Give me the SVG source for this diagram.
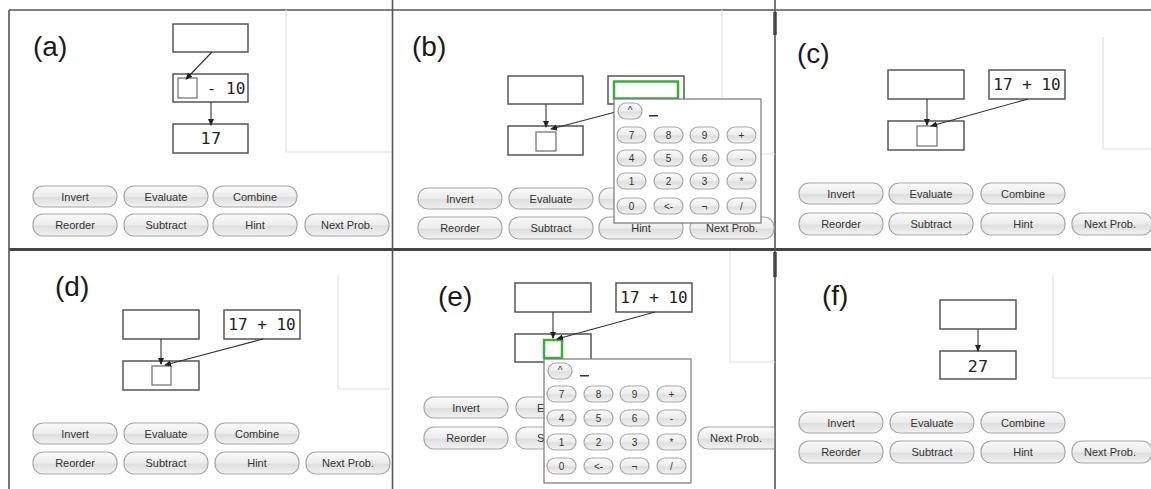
<svg xmlns="http://www.w3.org/2000/svg" width="1151" height="489" viewBox="0 0 1151 489">
<defs>
<linearGradient id="bg" x1="0" y1="0" x2="0" y2="1">
<stop offset="0" stop-color="#fbfbfb"/>
<stop offset="0.5" stop-color="#ececec"/>
<stop offset="0.55" stop-color="#dedede"/>
<stop offset="1" stop-color="#f2f2f2"/>
</linearGradient>
<clipPath id="eclip"><rect x="400" y="380" width="144" height="80"/></clipPath>
<clipPath id="eclip2"><rect x="690" y="420" width="84.2" height="40"/></clipPath>
<marker id="ah" viewBox="0 0 8 8" refX="7" refY="4" markerWidth="7" markerHeight="7" markerUnits="userSpaceOnUse" orient="auto">
<path d="M0,0.5 L8,4 L0,7.5 Z" fill="#222"/>
</marker>
<style>
.frame{stroke:#555;stroke-width:1.6;fill:none}
.canvas{stroke:#e2e2e2;stroke-width:1.2;fill:none}
.box{fill:#fff;stroke:#555;stroke-width:1.5}
.slot{fill:#fff;stroke:#777;stroke-width:1.3}
.sel{fill:#fff;stroke:#3dae3d;stroke-width:2.5}
.conn{stroke:#333;stroke-width:1.1;fill:none;marker-end:url(#ah)}
.btn{fill:url(#bg);stroke:#a6a6a6;stroke-width:1.2}
.bt{font-family:"Liberation Sans",Arial,sans-serif;font-size:11px;fill:#333;text-anchor:middle}
.kt{font-family:"Liberation Sans",Arial,sans-serif;font-size:10px;fill:#333;text-anchor:middle}
.pad{fill:#fff;stroke:#777;stroke-width:1.2}
.mono{font-family:"DejaVu Sans Mono",monospace;font-size:16px;fill:#222;text-anchor:middle}
.num{font-family:"DejaVu Sans",sans-serif;font-size:16px;fill:#222;text-anchor:middle}
.lbl{font-family:"Liberation Sans",Arial,sans-serif;font-size:28px;fill:#1a1a1a}
</style>
</defs>
<rect width="1151" height="489" fill="#fff"/>

<g id="frames">
<line class="frame" x1="9" y1="10" x2="1151" y2="10"/>
<line x1="9" y1="249.5" x2="1151" y2="249.5" stroke="#444" stroke-width="3"/>
<line class="frame" x1="9" y1="10" x2="9" y2="489"/>
<line class="frame" x1="392.5" y1="0" x2="392.5" y2="489"/>
<line class="frame" x1="775" y1="0" x2="775" y2="489"/>
<line x1="775" y1="12" x2="775" y2="35" stroke="#444" stroke-width="3.5"/>
<line x1="775" y1="252" x2="775" y2="277" stroke="#444" stroke-width="3.5"/>
<polyline class="canvas" points="286,10 286,152 392,152"/>
<polyline class="canvas" points="722,10 722,154 775,154"/>
<polyline class="canvas" points="1103,37 1103,149 1151,149"/>
<polyline class="canvas" points="338,275 338,389 392,389"/>
<polyline class="canvas" points="730,251 730,362 775,362"/>
<polyline class="canvas" points="1053,276 1053,378 1151,378"/>
</g>

<g id="panel-a">
<text class="lbl" x="33" y="56">(a)</text>
<g id="a-top"><rect class="box" x="173" y="24" width="75" height="28"/></g>
<g id="a-mid"><rect class="box" x="173" y="74" width="75" height="28"/><rect class="slot" x="178" y="78" width="19" height="20"/><text class="mono" x="226" y="94">- 10</text></g>
<g id="a-bot"><rect class="box" x="173" y="124" width="75" height="29"/><text class="num" x="211" y="144">17</text></g>
<g id="a-buttons">
<rect class="btn" x="33" y="186" width="84" height="21" rx="10"/><text class="bt" x="75" y="200.5">Invert</text>
<rect class="btn" x="124" y="186" width="84" height="21" rx="10"/><text class="bt" x="166" y="200.5">Evaluate</text>
<rect class="btn" x="213" y="186" width="84" height="21" rx="10"/><text class="bt" x="255" y="200.5">Combine</text>
<rect class="btn" x="33" y="214" width="84" height="22" rx="10"/><text class="bt" x="75" y="229">Reorder</text>
<rect class="btn" x="124" y="214" width="84" height="22" rx="10"/><text class="bt" x="166" y="229">Subtract</text>
<rect class="btn" x="213" y="214" width="84" height="22" rx="10"/><text class="bt" x="255" y="229">Hint</text>
<rect class="btn" x="305" y="214" width="84" height="22" rx="10"/><text class="bt" x="347" y="229">Next Prob.</text>
</g>
</g>

<g id="panel-b">
<text class="lbl" x="412" y="56">(b)</text>
<g id="b-top"><rect class="box" x="508" y="76" width="75" height="28"/></g>
<g id="b-input"><rect class="box" x="608" y="76" width="76" height="28"/><rect class="sel" x="614" y="81.5" width="64" height="17"/></g>
<g id="b-bot"><rect class="box" x="508" y="126" width="75" height="29"/><rect class="slot" x="536" y="132" width="20" height="19"/></g>
<g id="b-buttons">
<rect class="btn" x="418" y="188" width="84" height="21" rx="10"/><text class="bt" x="460" y="202.5">Invert</text>
<rect class="btn" x="509" y="188" width="84" height="21" rx="10"/><text class="bt" x="551" y="202.5">Evaluate</text>
<rect class="btn" x="599" y="188" width="84" height="21" rx="10"/>
<rect class="btn" x="418" y="217" width="84" height="22" rx="10"/><text class="bt" x="460" y="232">Reorder</text>
<rect class="btn" x="509" y="217" width="84" height="22" rx="10"/><text class="bt" x="551" y="232">Subtract</text>
<rect class="btn" x="599" y="217" width="84" height="22" rx="10"/><text class="bt" x="641" y="232">Hint</text>
<rect class="btn" x="690" y="217" width="84" height="22" rx="10"/><text class="bt" x="732" y="232">Next Prob.</text>
</g>
</g>

<g id="panel-c">
<text class="lbl" x="797" y="63">(c)</text>
<g id="c-top"><rect class="box" x="888" y="70" width="76" height="29"/></g>
<g id="c-expr"><rect class="box" x="989" y="70" width="76" height="29"/><text class="mono" x="1027" y="90">17 + 10</text></g>
<g id="c-bot"><rect class="box" x="888" y="121" width="76" height="29"/><rect class="slot" x="917" y="126" width="20" height="20"/></g>
<g id="c-buttons">
<rect class="btn" x="799" y="183" width="84" height="21" rx="10"/><text class="bt" x="841" y="197.5">Invert</text>
<rect class="btn" x="889" y="183" width="84" height="21" rx="10"/><text class="bt" x="931" y="197.5">Evaluate</text>
<rect class="btn" x="981" y="183" width="84" height="21" rx="10"/><text class="bt" x="1023" y="197.5">Combine</text>
<rect class="btn" x="799" y="213" width="84" height="22" rx="10"/><text class="bt" x="841" y="228">Reorder</text>
<rect class="btn" x="889" y="213" width="84" height="22" rx="10"/><text class="bt" x="931" y="228">Subtract</text>
<rect class="btn" x="981" y="213" width="84" height="22" rx="10"/><text class="bt" x="1023" y="228">Hint</text>
<rect class="btn" x="1072" y="213" width="80" height="22" rx="10"/><text class="bt" x="1110" y="228">Next Prob.</text>
</g>
</g>

<g id="panel-d">
<text class="lbl" x="55" y="296">(d)</text>
<g id="d-top"><rect class="box" x="123" y="310" width="76" height="29"/></g>
<g id="d-expr"><rect class="box" x="224" y="310" width="76" height="29"/><text class="mono" x="262" y="330">17 + 10</text></g>
<g id="d-bot"><rect class="box" x="123" y="361" width="76" height="29"/><rect class="slot" x="152" y="366" width="19" height="19"/></g>
<g id="d-buttons">
<rect class="btn" x="33" y="423" width="84" height="21" rx="10"/><text class="bt" x="75" y="437.5">Invert</text>
<rect class="btn" x="124" y="423" width="84" height="21" rx="10"/><text class="bt" x="166" y="437.5">Evaluate</text>
<rect class="btn" x="215" y="423" width="84" height="21" rx="10"/><text class="bt" x="257" y="437.5">Combine</text>
<rect class="btn" x="33" y="452" width="84" height="22" rx="10"/><text class="bt" x="75" y="467">Reorder</text>
<rect class="btn" x="124" y="452" width="84" height="22" rx="10"/><text class="bt" x="166" y="467">Subtract</text>
<rect class="btn" x="215" y="452" width="84" height="22" rx="10"/><text class="bt" x="257" y="467">Hint</text>
<rect class="btn" x="306" y="452" width="84" height="22" rx="10"/><text class="bt" x="348" y="467">Next Prob.</text>
</g>
</g>

<g id="panel-e">
<text class="lbl" x="438" y="306">(e)</text>
<g id="e-top"><rect class="box" x="515" y="283" width="76" height="29"/></g>
<g id="e-expr"><rect class="box" x="616" y="283" width="76" height="29"/><text class="mono" x="654" y="303">17 + 10</text></g>
<g id="e-bot"><rect class="box" x="515" y="334" width="76" height="28"/><rect class="sel" x="544" y="340" width="18" height="18"/></g>
<g id="e-buttons">
<rect class="btn" x="424" y="397" width="84" height="21" rx="10"/><text class="bt" x="466" y="411.5">Invert</text>
<rect class="btn" x="424" y="427" width="84" height="22" rx="10"/><text class="bt" x="466" y="442">Reorder</text>
<g clip-path="url(#eclip)">
<rect class="btn" x="516" y="397" width="84" height="21" rx="10"/><text class="bt" x="537" y="411.5" style="text-anchor:start">E</text>
<rect class="btn" x="516" y="427" width="84" height="22" rx="10"/><text class="bt" x="537" y="442" style="text-anchor:start">Su</text>
</g>
<g clip-path="url(#eclip2)">
<rect class="btn" x="698" y="427" width="84" height="22" rx="10"/>
</g>
<text class="bt" x="736" y="442">Next Prob.</text>
</g>
</g>

<g id="panel-f">
<text class="lbl" x="822" y="305">(f)</text>
<g id="f-top"><rect class="box" x="940" y="300" width="76" height="29"/></g>
<g id="f-bot"><rect class="box" x="940" y="351" width="76" height="28"/><text class="num" x="978" y="372">27</text></g>
<g id="f-buttons">
<rect class="btn" x="799" y="412" width="84" height="21" rx="10"/><text class="bt" x="841" y="426.5">Invert</text>
<rect class="btn" x="890" y="412" width="84" height="21" rx="10"/><text class="bt" x="932" y="426.5">Evaluate</text>
<rect class="btn" x="981" y="412" width="84" height="21" rx="10"/><text class="bt" x="1023" y="426.5">Combine</text>
<rect class="btn" x="799" y="441" width="84" height="22" rx="10"/><text class="bt" x="841" y="456">Reorder</text>
<rect class="btn" x="890" y="441" width="84" height="22" rx="10"/><text class="bt" x="932" y="456">Subtract</text>
<rect class="btn" x="981" y="441" width="84" height="22" rx="10"/><text class="bt" x="1023" y="456">Hint</text>
<rect class="btn" x="1072" y="441" width="80" height="22" rx="10"/><text class="bt" x="1110" y="456">Next Prob.</text>
</g>
</g>

<g id="connectors">
<line class="conn" x1="212" y1="52" x2="186" y2="79"/>
<line class="conn" x1="211" y1="102" x2="211" y2="125"/>
<line class="conn" x1="546" y1="104" x2="546" y2="127"/>
<line class="conn" x1="646" y1="104" x2="551" y2="129"/>
<line class="conn" x1="927" y1="99" x2="927" y2="125"/>
<line class="conn" x1="1028" y1="99" x2="931" y2="126"/>
<line class="conn" x1="161" y1="339" x2="161" y2="364"/>
<line class="conn" x1="263" y1="339" x2="165" y2="365"/>
<line class="conn" x1="553" y1="312" x2="553" y2="338"/>
<line class="conn" x1="655" y1="312" x2="557" y2="339"/>
<line class="conn" x1="978" y1="329" x2="978" y2="351"/>
</g>

<g id="keypad-b" transform="translate(614,99)">
<rect class="pad" x="0" y="0" width="147" height="124"/>
<rect class="btn" x="4" y="4" width="24" height="16" rx="8"/><text class="kt" x="16" y="15">^</text>
<rect x="35" y="16" width="9" height="1.5" fill="#333"/>
<rect class="btn" x="3" y="28" width="29" height="16" rx="8"/><text class="kt" x="17.5" y="40">7</text>
<rect class="btn" x="40" y="28" width="29" height="16" rx="8"/><text class="kt" x="54.5" y="40">8</text>
<rect class="btn" x="76" y="28" width="29" height="16" rx="8"/><text class="kt" x="90.5" y="40">9</text>
<rect class="btn" x="113" y="28" width="29" height="16" rx="8"/><text class="kt" x="127.5" y="40">+</text>
<rect class="btn" x="3" y="51" width="29" height="16" rx="8"/><text class="kt" x="17.5" y="63">4</text>
<rect class="btn" x="40" y="51" width="29" height="16" rx="8"/><text class="kt" x="54.5" y="63">5</text>
<rect class="btn" x="76" y="51" width="29" height="16" rx="8"/><text class="kt" x="90.5" y="63">6</text>
<rect class="btn" x="113" y="51" width="29" height="16" rx="8"/><text class="kt" x="127.5" y="63">-</text>
<rect class="btn" x="3" y="74" width="29" height="16" rx="8"/><text class="kt" x="17.5" y="86">1</text>
<rect class="btn" x="40" y="74" width="29" height="16" rx="8"/><text class="kt" x="54.5" y="86">2</text>
<rect class="btn" x="76" y="74" width="29" height="16" rx="8"/><text class="kt" x="90.5" y="86">3</text>
<rect class="btn" x="113" y="74" width="29" height="16" rx="8"/><text class="kt" x="127.5" y="86">*</text>
<rect class="btn" x="3" y="99" width="29" height="16" rx="8"/><text class="kt" x="17.5" y="111">0</text>
<rect class="btn" x="40" y="99" width="29" height="16" rx="8"/><text class="kt" x="54.5" y="111">&lt;-</text>
<rect class="btn" x="76" y="99" width="29" height="16" rx="8"/><text class="kt" x="90.5" y="111">¬</text>
<rect class="btn" x="113" y="99" width="29" height="16" rx="8"/><text class="kt" x="127.5" y="111">/</text>
</g>

<g id="keypad-e" transform="translate(544,359)">
<rect class="pad" x="0" y="0" width="147" height="124"/>
<rect class="btn" x="4" y="4" width="24" height="16" rx="8"/><text class="kt" x="16" y="15">^</text>
<rect x="36" y="16" width="9" height="1.5" fill="#333"/>
<rect class="btn" x="3" y="27" width="29" height="16" rx="8"/><text class="kt" x="17.5" y="39">7</text>
<rect class="btn" x="40" y="27" width="29" height="16" rx="8"/><text class="kt" x="54.5" y="39">8</text>
<rect class="btn" x="76" y="27" width="29" height="16" rx="8"/><text class="kt" x="90.5" y="39">9</text>
<rect class="btn" x="113" y="27" width="29" height="16" rx="8"/><text class="kt" x="127.5" y="39">+</text>
<rect class="btn" x="3" y="51" width="29" height="16" rx="8"/><text class="kt" x="17.5" y="63">4</text>
<rect class="btn" x="40" y="51" width="29" height="16" rx="8"/><text class="kt" x="54.5" y="63">5</text>
<rect class="btn" x="76" y="51" width="29" height="16" rx="8"/><text class="kt" x="90.5" y="63">6</text>
<rect class="btn" x="113" y="51" width="29" height="16" rx="8"/><text class="kt" x="127.5" y="63">-</text>
<rect class="btn" x="3" y="75" width="29" height="16" rx="8"/><text class="kt" x="17.5" y="87">1</text>
<rect class="btn" x="40" y="75" width="29" height="16" rx="8"/><text class="kt" x="54.5" y="87">2</text>
<rect class="btn" x="76" y="75" width="29" height="16" rx="8"/><text class="kt" x="90.5" y="87">3</text>
<rect class="btn" x="113" y="75" width="29" height="16" rx="8"/><text class="kt" x="127.5" y="87">*</text>
<rect class="btn" x="3" y="99" width="29" height="16" rx="8"/><text class="kt" x="17.5" y="111">0</text>
<rect class="btn" x="40" y="99" width="29" height="16" rx="8"/><text class="kt" x="54.5" y="111">&lt;-</text>
<rect class="btn" x="76" y="99" width="29" height="16" rx="8"/><text class="kt" x="90.5" y="111">¬</text>
<rect class="btn" x="113" y="99" width="29" height="16" rx="8"/><text class="kt" x="127.5" y="111">/</text>
</g>
</svg>
